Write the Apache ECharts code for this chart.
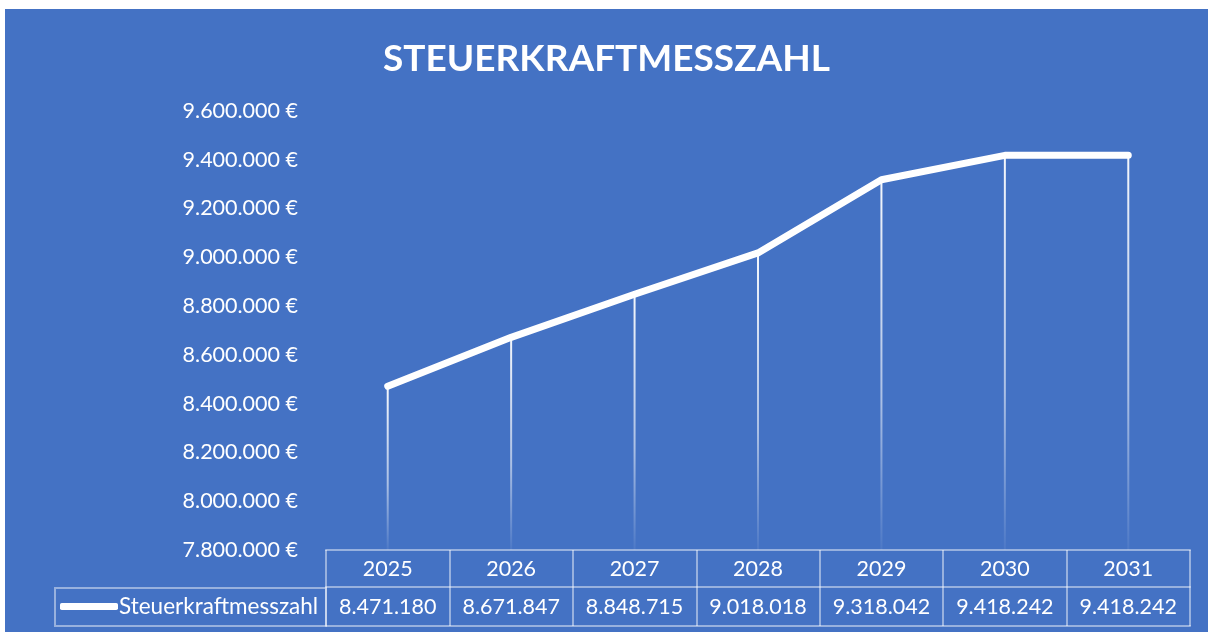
<!DOCTYPE html>
<html>
<head>
<meta charset="utf-8">
<script src="https://cdn.jsdelivr.net/npm/echarts@6/dist/echarts.min.js"></script>
<style>
  html, body { margin: 0; padding: 0; background: #fff; }
  #chart { position: absolute; left: 5px; top: 9px; width: 1203px; height: 623px; background: #4472c4; }
</style>
</head>
<body>
<div id="chart"></div>
<script>
// Steuerkraftmesszahl 2025-2031
const years = ['2025', '2026', '2027', '2028', '2029', '2030', '2031']
const values = [8471180, 8671847, 8848715, 9018018, 9318042, 9418242, 9418242]
const seriesName = 'Steuerkraftmesszahl'

const fmt = v => String(v).replace(/\B(?=(\d{3})+(?!\d))/g, '.')
const font = 'Lato, "Open Sans", sans-serif'
const tableLine = 'rgba(255,255,255,0.45)'

const chart = echarts.init(document.getElementById('chart'))
chart.setOption({
  backgroundColor: '#4472c4',
  animation: false,
  textStyle: { fontFamily: font },
  title: {
    text: 'STEUERKRAFTMESSZAHL',
    left: 'center',
    top: 27,
    textStyle: { color: '#fff', fontSize: 37, fontWeight: 'bold', fontFamily: font }
  },
  grid: { left: 321, right: 18, top: 102, bottom: 82 },
  legend: {
    data: [seriesName],
    left: 55,
    top: 586,
    padding: 0,
    itemWidth: 58,
    itemHeight: 7,
    itemGap: 0,
    icon: 'roundRect',
    textStyle: { color: '#fff', fontSize: 22.5, fontFamily: font, padding: [0, 0, 0, -4] }
  },
  xAxis: [
    {
      type: 'category',
      data: years,
      position: 'bottom',
      axisLine: { show: true, lineStyle: { color: tableLine, width: 2 } },
      axisTick: { show: true, length: 76, lineStyle: { color: tableLine, width: 2 } },
      axisLabel: { color: '#fff', fontSize: 21.5, margin: 8, interval: 0, fontFamily: font }
    },
    {
      type: 'category',
      data: values.map(fmt),
      position: 'bottom',
      offset: 37,
      axisLine: { show: true, lineStyle: { color: tableLine, width: 2 } },
      axisTick: { show: false },
      axisLabel: { color: '#fff', fontSize: 21.5, margin: 9, interval: 0, hideOverlap: false, fontFamily: font }
    },
    {
      type: 'category',
      data: years,
      position: 'bottom',
      offset: 76,
      axisLine: { show: true, lineStyle: { color: tableLine, width: 2 } },
      axisTick: { show: false },
      axisLabel: { show: false }
    }
  ],
  yAxis: {
    type: 'value',
    min: 7800000,
    max: 9600000,
    interval: 200000,
    axisLine: { show: false },
    axisTick: { show: false },
    splitLine: { show: false },
    axisLabel: {
      color: '#fff',
      fontSize: 21.5,
      margin: 28,
      fontFamily: font,
      formatter: v => fmt(v) + ' €'
    }
  },
  graphic: [
    {
      type: 'rect',
      shape: { x: 50, y: 579, width: 271, height: 38 },
      style: { fill: 'none', stroke: tableLine, lineWidth: 2 }
    }
  ],
  series: [
    {
      // Lotlinien
      type: 'bar',
      name: 'drop',
      data: values,
      xAxisIndex: 0,
      barWidth: 2,
      z: 1,
      itemStyle: {
        color: {
          type: 'linear', x: 0, y: 0, x2: 0, y2: 1,
          colorStops: [
            { offset: 0, color: 'rgba(255,255,255,0.95)' },
            { offset: 0.6, color: 'rgba(255,255,255,0.55)' },
            { offset: 1, color: 'rgba(255,255,255,0.05)' }
          ]
        }
      }
    },
    {
      type: 'line',
      name: seriesName,
      data: values,
      xAxisIndex: 0,
      symbol: 'none',
      z: 3,
      color: '#fff',
      lineStyle: { width: 7, color: '#fff', cap: 'round', join: 'round' }
    }
  ]
})
</script>
</body>
</html>
